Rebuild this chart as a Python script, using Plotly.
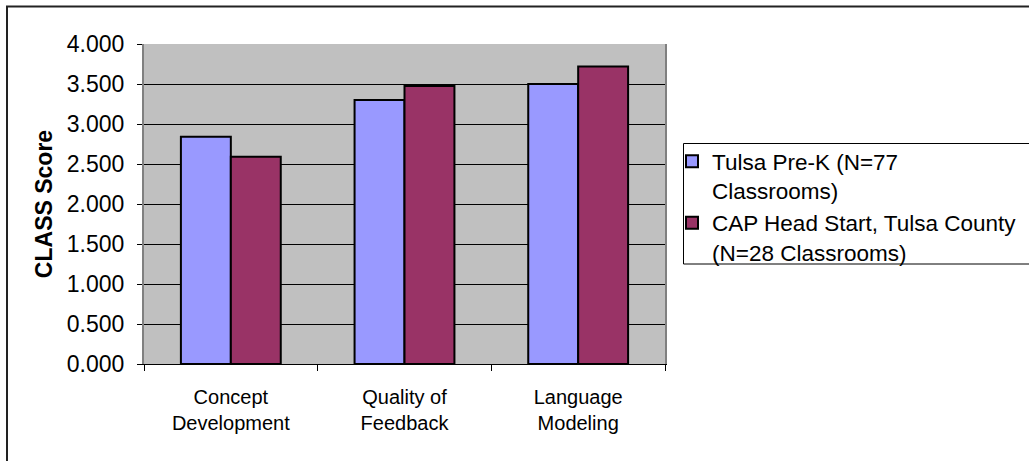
import plotly.graph_objects as go

categories = ["Concept<br>Development", "Quality of<br>Feedback", "Language<br>Modeling"]
series_names = ["Tulsa Pre-K (N=77<br>Classrooms)", "CAP Head Start, Tulsa County<br>(N=28 Classrooms)"]
tulsa_prek = [2.84, 3.30, 3.50]
cap_head_start = [2.59, 3.475, 3.72]
y_ticks = [0.0, 0.5, 1.0, 1.5, 2.0, 2.5, 3.0, 3.5, 4.0]
colors = ["#9999FF", "#993366"]

W, H = 1029, 461
L, R, T, B = 144, 665, 44, 364  # plot area pixel edges

fig = go.Figure()
for name, vals, col, grp in zip(series_names, [tulsa_prek, cap_head_start], colors, ["a", "b"]):
    fig.add_trace(go.Bar(
        x=categories, y=vals, name=name, legendgroup=grp,
        marker=dict(color=col, line=dict(color="black", width=2)),
    ))

def px_x(p):
    return (p - L) / (R - L)

def px_y(p):
    return (B - p) / (B - T)

fig.update_layout(
    width=W, height=H, autosize=False,
    margin=dict(l=L, r=W - R, t=T, b=H - B, pad=0, autoexpand=False),
    paper_bgcolor="white", plot_bgcolor="#C0C0C0",
    font=dict(family="Arial, Liberation Sans", size=20, color="black"),
    barmode="group", bargap=0.425, bargroupgap=0,
    showlegend=True,
    legend=dict(
        x=px_x(672), y=px_y(140), xanchor="left", yanchor="top",
        bgcolor="rgba(0,0,0,0)", borderwidth=0,
        font=dict(size=22.5), valign="top", tracegroupgap=0,
        itemwidth=30,
    ),
    xaxis=dict(
        tickson="boundaries", ticks="outside", ticklen=6, tickcolor="black", tickwidth=1,
        showline=True, linecolor="black", linewidth=1,
        showgrid=False, tickfont=dict(size=20), ticklabelstandoff=15,
        automargin=False,
    ),
    yaxis=dict(
        range=[0, 4], tickvals=y_ticks, tickformat=".3f",
        ticks="outside", ticklen=5, tickcolor="black", tickwidth=1,
        showline=True, linecolor="#808080", linewidth=2, mirror=True,
        showgrid=True, gridcolor="black", gridwidth=1,
        tickfont=dict(size=23), ticklabelstandoff=8,
        title=dict(text="<b>CLASS Score</b>", font=dict(size=23), standoff=8),
        automargin=False, zeroline=False,
    ),
    shapes=[
        # outer chart border (right/bottom cut off)
        dict(type="rect", xref="paper", yref="paper",
             x0=px_x(7), x1=px_x(1045), y0=px_y(475), y1=px_y(6.5),
             line=dict(color="#222222", width=2), fillcolor="rgba(0,0,0,0)", layer="above"),
        # legend box
        dict(type="rect", xref="paper", yref="paper",
             x0=px_x(683.5), x1=px_x(1040), y0=px_y(264), y1=px_y(143.5),
             line=dict(color="black", width=1), fillcolor="white", layer="below"),
    ],
)

fig.write_html(
    "out.html",
    config={"displayModeBar": False},
    post_script="document.body.style.margin='0';document.body.style.overflow='hidden';",
)
